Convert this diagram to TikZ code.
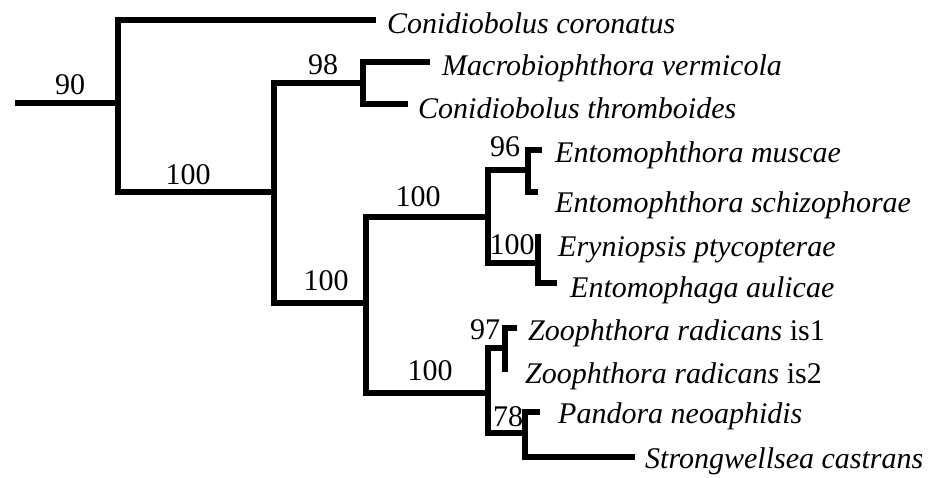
\documentclass[tikz,border=0pt]{standalone}
\usepackage{fontspec}
\setmainfont{Liberation Serif}

\begin{document}
\begin{tikzpicture}[
  x=1pt, y=-1pt,
  br/.style={line width=5.5pt, line join=miter, line cap=butt},
  leaf/.style={anchor=base west, inner sep=0pt, font=\fontsize{30}{36}\selectfont\itshape},
  boot/.style={anchor=center, inner sep=0pt, font=\fontsize{30}{36}\selectfont},
]
\useasboundingbox (0,0) rectangle (933,477);

% ---------------- internal nodes ----------------
\coordinate (root)  at (15,103);
\coordinate (n90)   at (118,103);
\coordinate (n100a) at (274,192);
\coordinate (n98)   at (363,83);
\coordinate (n100b) at (366,303);
\coordinate (n100c) at (488,217);
\coordinate (n96)   at (528,170);
\coordinate (n100e) at (538,263);
\coordinate (n100d) at (488,393);
\coordinate (n97)   at (505,348);
\coordinate (n78)   at (525,433);

% ---------------- leaf tips ----------------
\coordinate (tCcor) at (376,20);
\coordinate (tMver) at (430,62);
\coordinate (tCthr) at (408,104);
\coordinate (tEmus) at (542,150);
\coordinate (tEsch) at (538,192);
\coordinate (tEpty) at (541,237);
\coordinate (tEaul) at (557,283);
\coordinate (tZis1) at (517,328);
\coordinate (tZis2) at (505,372);
\coordinate (tPneo) at (540,412);
\coordinate (tScas) at (635,457);

% ---------------- branches ----------------
\draw[br] (root) -- (n90);
\draw[br] (n90) |- (tCcor);
\draw[br] (n90) |- (n100a);
\draw[br] (n100a) |- (n98);
\draw[br] (n100a) |- (n100b);
\draw[br] (n98) |- (tMver);
\draw[br] (n98) |- (tCthr);
\draw[br] (n100b) |- (n100c);
\draw[br] (n100b) |- (n100d);
\draw[br] (n100c) |- (n96);
\draw[br] (n100c) |- (n100e);
\draw[br] (n96) |- (tEmus);
\draw[br] (n96) |- (tEsch);
\draw[br] (n100e) |- (tEpty);
\draw[br] (n100e) |- (tEaul);
\draw[br] (n100d) |- (n97);
\draw[br] (n100d) |- (n78);
\draw[br] (n97) |- (tZis1);
\draw[br] (n97) |- (tZis2);
\draw[br] (n78) |- (tPneo);
\draw[br] (n78) |- (tScas);

% ---------------- taxa ----------------
\node[leaf] (Ccor) at (387,33)  {Conidiobolus coronatus};
\node[leaf] (Mver) at (442,75)  {Macrobiophthora vermicola};
\node[leaf] (Cthr) at (418,118) {Conidiobolus thromboides};
\node[leaf] (Emus) at (555,162) {Entomophthora muscae};
\node[leaf] (Esch) at (555,212) {Entomophthora schizophorae};
\node[leaf] (Epty) at (558,256) {Eryniopsis ptycopterae};
\node[leaf] (Eaul) at (570,297) {Entomophaga aulicae};
\node[leaf] (Zis1) at (528,340) {Zoophthora radicans \upshape is1};
\node[leaf] (Zis2) at (525,383) {Zoophthora radicans \upshape is2};
\node[leaf] (Pneo) at (558,423) {Pandora neoaphidis};
\node[leaf] (Scas) at (645,468) {Strongwellsea castrans};

% ---------------- bootstrap values ----------------
\node[boot] (b90)   at (70,85)   {90};
\node[boot] (b100a) at (188,175) {100};
\node[boot] (b98)   at (323,65)  {98};
\node[boot] (b100b) at (326,281) {100};
\node[boot] (b100c) at (418,197) {100};
\node[boot] (b100d) at (430,371) {100};
\node[boot] (b96)   at (505,147) {96};
\node[boot] (b100e) at (512,245) {100};
\node[boot] (b97)   at (485,330) {97};
\node[boot] (b78)   at (508,417) {78};

\end{tikzpicture}
\end{document}
